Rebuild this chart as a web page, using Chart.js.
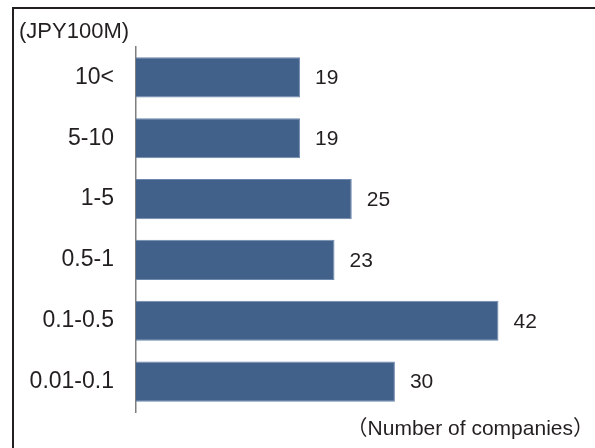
<!DOCTYPE html>
<html>
<head>
<meta charset="utf-8">
<script src="https://cdn.jsdelivr.net/npm/chart.js@4/dist/chart.umd.min.js"></script>
<style>
    html, body {margin: 0; padding: 0; background: #fff;}
    .wrap {position: relative; width: 595px; height: 448px;}
    .frame {position: absolute; left: 12px; top: 7px; right: 0; bottom: 0; border-top: 2px solid #231f20; border-left: 2px solid #231f20;}
    canvas {position: absolute; left: 0; top: 0;}
</style>
</head>
<body>
<div class="wrap">
    <div class="frame"></div>
    <canvas id="myChart" width="595" height="448"></canvas>
</div>
<script>
const categories = ["10<", "5-10", "1-5", "0.5-1", "0.1-0.5", "0.01-0.1"];
const companies = [19, 19, 25, 23, 42, 30];
const unitLabel = "(JPY100M)";
const countLabel = "（Number of companies）";

const textColor = '#231f20';
const barColor = '#41608a';
const fontFamily = "'Liberation Sans', Arial, 'Noto Sans CJK JP', sans-serif";

// labels next to bars plus the two unit captions
const labelPlugin = {
    id: 'labels',
    afterDatasetsDraw(chart) {
        const ctx = chart.ctx;
        ctx.save();
        ctx.fillStyle = textColor;
        ctx.textBaseline = 'middle';
        ctx.textAlign = 'left';
        ctx.font = "21px " + fontFamily;
        chart.getDatasetMeta(0).data.forEach((bar, i) => {
            ctx.fillText(companies[i], bar.x + 15, bar.y + 1);
        });
        ctx.font = "22px " + fontFamily;
        ctx.fillText(unitLabel, 19, 32);
        ctx.textAlign = 'right';
        ctx.font = "21px " + fontFamily;
        ctx.fillText(countLabel, 594, 429);
        ctx.restore();
    }
};

const ctx = document.getElementById('myChart').getContext('2d');
const myChart = new Chart(ctx, {
    type: 'bar',
    data: {
        labels: categories,
        datasets: [{
            data: companies,
            backgroundColor: barColor,
            borderColor: '#6d88ad',
            borderWidth: 1,
            barPercentage: 0.66,
            categoryPercentage: 1
        }]
    },
    options: {
        indexAxis: 'y',
        responsive: false,
        animation: false,
        layout: {padding: {top: 47, bottom: 36, right: 27.5, left: 0}},
        plugins: {
            legend: {display: false},
            tooltip: {enabled: false}
        },
        scales: {
            x: {
                display: false,
                min: 0,
                max: 50
            },
            y: {
                afterFit: s => { s.width = 136; },
                grid: {display: false, drawTicks: false},
                border: {display: true, color: '#7f7f7f', width: 1.5},
                ticks: {
                    color: textColor,
                    padding: 22,
                    font: {family: fontFamily, size: 23}
                }
            }
        }
    },
    plugins: [labelPlugin]
});
</script>
</body>
</html>
